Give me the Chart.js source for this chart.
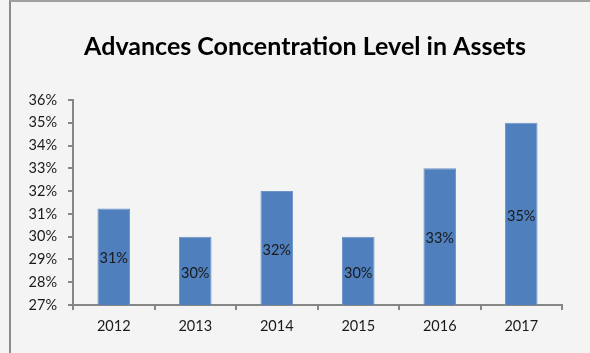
<!DOCTYPE html>
<html>
<head>
<meta charset="utf-8">
<script src="https://cdn.jsdelivr.net/npm/chart.js@4"></script>
<style>
  body { margin: 0; background: #f4f4f4; }
  #wrap { position: relative; width: 590px; height: 353px; background: #f4f4f4; }
  #frame { position: absolute; left: 9px; top: 0; width: 581px; height: 353px;
           border-left: 2px solid #8c8c8c; border-top: 2px solid #a0a0a0; box-sizing: border-box; }
  canvas { position: absolute; left: 0; top: 0; }
</style>
</head>
<body>
<div id="wrap">
  <div id="frame"></div>
  <canvas id="grafico" width="590" height="353"></canvas>
</div>
<script>
const anos = ["2012", "2013", "2014", "2015", "2016", "2017"];
const concentracao = [31.24, 30.0, 32.0, 30.0, 33.0, 35.0];
const rotulos = ["31%", "30%", "32%", "30%", "33%", "35%"];
const titulo = "Advances Concentration Level in Assets";
const eixoMin = 27;
const eixoMax = 36;

const fonte = "Lato, 'Open Sans', sans-serif";

// título desenhado à mão para ficar na mesma posição do original
const tituloFixo = {
    id: "tituloFixo",
    afterDraw(chart) {
        const c = chart.ctx;
        c.save();
        c.font = "bold 25px " + fonte;
        c.fillStyle = "#000000";
        c.textAlign = "center";
        c.textBaseline = "middle";
        c.fillText(titulo, 305, 47);
        c.restore();
    }
};

// rótulos dentro das barras, centralizados
const rotulosBarras = {
    id: "rotulosBarras",
    afterDraw(chart) {
        const c = chart.ctx;
        const eixoX = chart.scales.x;
        const eixoY = chart.scales.y;
        c.save();
        c.font = "14.5px " + fonte;
        c.fillStyle = "#1a1a1a";
        c.textAlign = "center";
        c.textBaseline = "middle";
        concentracao.forEach((valor, i) => {
            const x = eixoX.getPixelForValue(i);
            const topo = eixoY.getPixelForValue(valor);
            const meio = (topo + eixoY.bottom) / 2;
            c.fillText(rotulos[i], x, meio + 2);
        });
        c.restore();
    }
};

const ctx = document.getElementById("grafico").getContext("2d");

new Chart(ctx, {
    type: "bar",
    data: {
        labels: anos,
        datasets: [{
            data: concentracao,
            backgroundColor: "#4f7fbd",
            borderColor: "#6b95c9",
            borderWidth: 1,
            categoryPercentage: 1,
            barPercentage: 0.4
        }]
    },
    options: {
        responsive: false,
        animation: false,
        layout: {
            padding: { left: 0, right: 28, top: 100, bottom: 0 }
        },
        plugins: {
            legend: { display: false },
            tooltip: { enabled: false },
            title: { display: false }
        },
        scales: {
            x: {
                afterFit(scale) { scale.height = 48; },
                grid: {
                    offset: true,
                    drawOnChartArea: false,
                    drawTicks: true,
                    tickLength: 5,
                    color: "#868686",
                    lineWidth: 2
                },
                border: { display: true, color: "#868686", width: 2 },
                ticks: {
                    color: "#1a1a1a",
                    padding: 8,
                    font: { family: fonte, size: 14.5 }
                }
            },
            y: {
                min: eixoMin,
                max: eixoMax,
                afterFit(scale) { scale.width = 73; },
                grid: {
                    drawOnChartArea: false,
                    drawTicks: true,
                    tickLength: 5,
                    color: "#868686",
                    lineWidth: 2
                },
                border: { display: true, color: "#868686", width: 2 },
                ticks: {
                    stepSize: 1,
                    color: "#1a1a1a",
                    padding: 11,
                    font: { family: fonte, size: 14.5 },
                    callback: v => v + "%"
                }
            }
        }
    },
    plugins: [rotulosBarras, tituloFixo]
});
</script>
</body>
</html>
